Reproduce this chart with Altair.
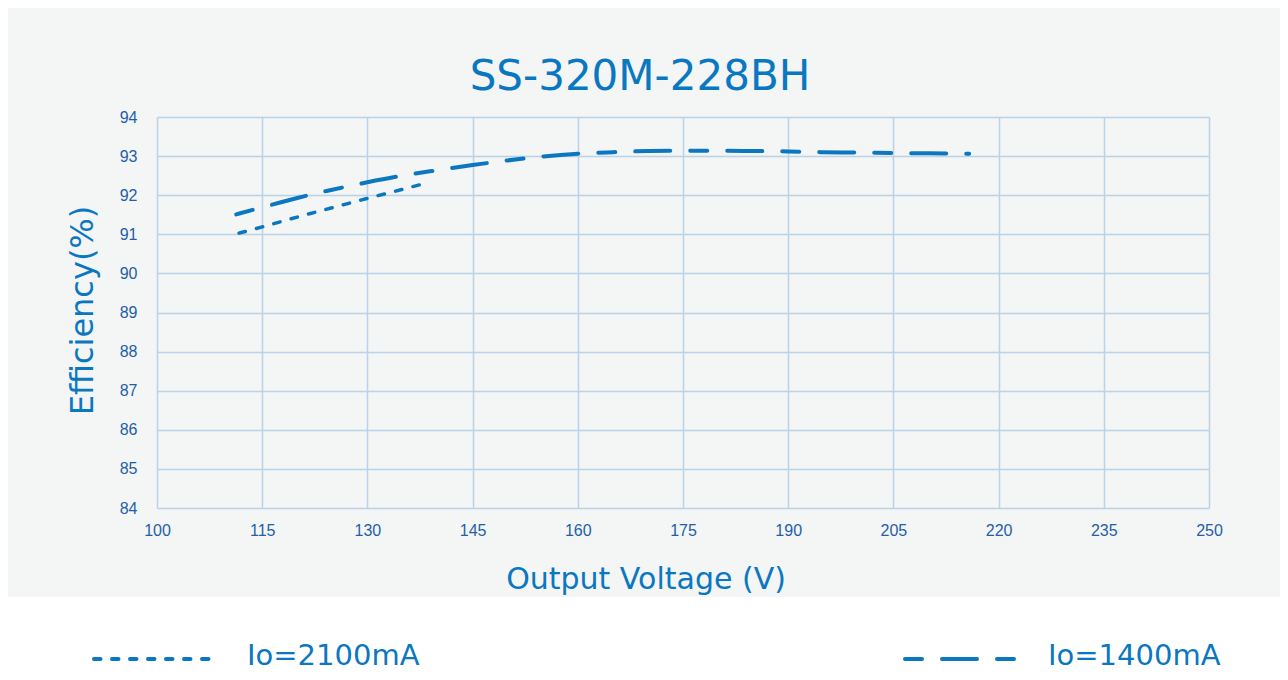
import altair as alt
import pandas as pd

# ---- data ----
title_text = "SS-320M-228BH"
x_title = "Output Voltage (V)"
y_title = "Efficiency(%)"
series_names = ["Io=2100mA", "Io=1400mA"]

v_2100 = [111.7, 115, 120, 125, 130, 135, 138.8]
eff_2100 = [91.03, 91.19, 91.44, 91.68, 91.92, 92.15, 92.33]

v_1400 = [111.3, 115, 120, 125, 130, 135, 140, 145, 150, 155, 160, 165, 170, 175,
          180, 185, 190, 195, 200, 205, 210, 215.8]
eff_1400 = [91.51, 91.69, 91.93, 92.14, 92.33, 92.50, 92.64, 92.77, 92.89, 92.99,
            93.06, 93.10, 93.13, 93.14, 93.14, 93.13, 93.12, 93.10, 93.09, 93.08,
            93.07, 93.06]

x_ticks = [100, 115, 130, 145, 160, 175, 190, 205, 220, 235, 250]
y_ticks = [84, 85, 86, 87, 88, 89, 90, 91, 92, 93, 94]

# ---- styling ----
LINE = "#0b77c1"
TITLE_C = "#0a78c0"
TICK_C = "#1f60a9"
GRID_C = "#b9d3e8"
BG = "#f4f5f5"
W, H = 1052, 391
PAD = {"left": 149, "top": 109, "right": 71, "bottom": 164}
DASH_2100 = [6.5, 11.5]
DASH_1400 = [17, 20, 35, 20]

df2100 = pd.DataFrame({"V": v_2100, "E": eff_2100})
df1400 = pd.DataFrame({"V": v_1400, "E": eff_1400})
one = pd.DataFrame({"a": [0]})

xs = alt.Scale(domain=[100, 250], nice=False, zero=False)
ys = alt.Scale(domain=[84, 94], nice=False, zero=False)

x_axis = alt.Axis(values=x_ticks, tickCount=len(x_ticks), title=x_title, grid=True,
                  gridColor=GRID_C, gridWidth=1.5, domain=False, ticks=False,
                  labelFont="Liberation Sans", labelFontSize=16, labelColor=TICK_C,
                  labelPadding=14, labelOverlap=False, labelFlush=False,
                  titleFont="DejaVu Sans", titleFontSize=30, titleFontWeight="normal",
                  titleColor=TITLE_C, titleX=488.5, titleY=80,
                  titleBaseline="alphabetic", titleAlign="center")
y_axis = alt.Axis(values=y_ticks, tickCount=len(y_ticks), title=y_title, grid=True,
                  gridColor=GRID_C, gridWidth=1.5, domain=False, ticks=False,
                  labelFont="Liberation Sans", labelFontSize=16, labelColor=TICK_C,
                  labelPadding=20, labelOverlap=False, labelFlush=False,
                  titleFont="DejaVu Sans", titleFontSize=32, titleFontWeight="normal",
                  titleColor=TITLE_C, titleAngle=270, titleX=-75, titleY=193,
                  titleBaseline="middle", titleAlign="center")

base_x = alt.X("V:Q", scale=xs, axis=x_axis)
base_y = alt.Y("E:Q", scale=ys, axis=y_axis)

line2100 = alt.Chart(df2100).mark_line(
    color=LINE, strokeWidth=3.5, strokeDash=DASH_2100, strokeCap="round",
    interpolate="monotone").encode(x=base_x, y=base_y)
line1400 = alt.Chart(df1400).mark_line(
    color=LINE, strokeWidth=4, strokeDash=DASH_1400, strokeCap="round",
    interpolate="monotone").encode(x=base_x, y=base_y)

# white area below the grey panel (legend area)
white = alt.Chart(one).mark_rect(color="white").encode(
    x=alt.value(-PAD["left"]), x2=alt.value(W + PAD["right"]),
    y=alt.value(480), y2=alt.value(H + PAD["bottom"]))

title = alt.Chart(pd.DataFrame({"t": [title_text]})).mark_text(
    font="DejaVu Sans", fontSize=42, color=TITLE_C, align="center",
    baseline="alphabetic").encode(text="t:N", x=alt.value(483), y=alt.value(-27))

leg_rule1 = alt.Chart(one).mark_rule(
    color=LINE, strokeWidth=4, strokeDash=DASH_2100, strokeCap="round").encode(
    x=alt.value(-63), x2=alt.value(60), y=alt.value(542))
leg_rule2 = alt.Chart(one).mark_rule(
    color=LINE, strokeWidth=4, strokeDash=DASH_1400, strokeCap="round").encode(
    x=alt.value(748), x2=alt.value(862), y=alt.value(542))
leg_text1 = alt.Chart(pd.DataFrame({"t": [series_names[0]]})).mark_text(
    font="DejaVu Sans", fontSize=29, color=LINE, align="left",
    baseline="alphabetic").encode(text="t:N", x=alt.value(90), y=alt.value(548))
leg_text2 = alt.Chart(pd.DataFrame({"t": [series_names[1]]})).mark_text(
    font="DejaVu Sans", fontSize=29, color=LINE, align="left",
    baseline="alphabetic").encode(text="t:N", x=alt.value(891), y=alt.value(548))

chart = alt.layer(
    line2100, line1400, white, title, leg_rule1, leg_rule2, leg_text1, leg_text2
).properties(
    width=W, height=H,
    autosize=alt.AutoSizeParams(type="none"),
    padding=PAD,
    background=BG,
).configure_view(stroke=None, fill=None)

chart.save("out.html", embed_options={"renderer": "svg", "actions": False})
